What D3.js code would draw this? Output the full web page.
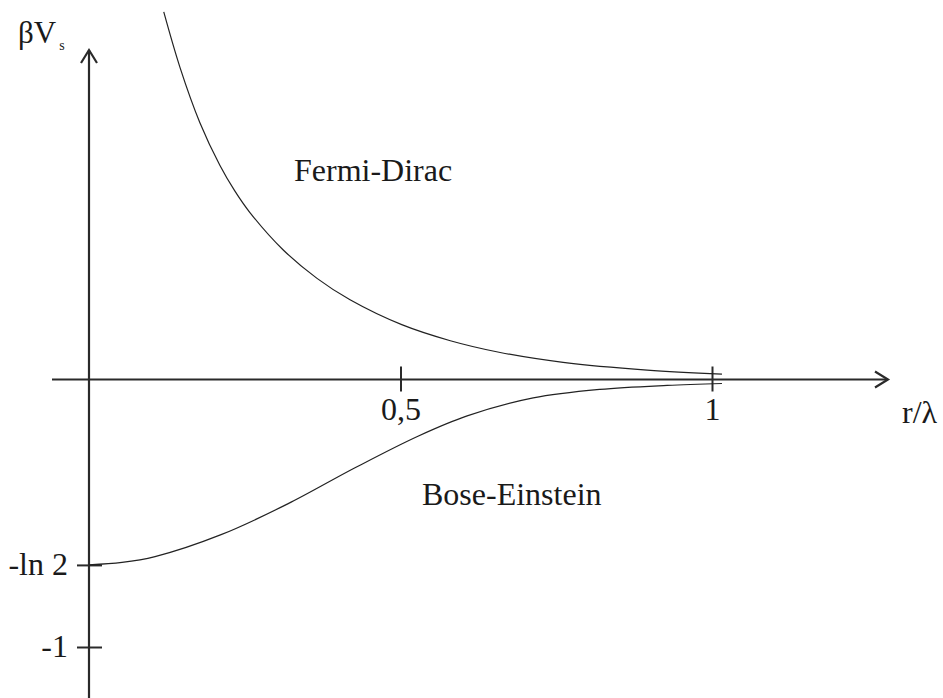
<!DOCTYPE html>
<html>
<head>
<meta charset="utf-8">
<script src="https://cdn.jsdelivr.net/npm/d3@7"></script>
<style>
  html, body { margin: 0; padding: 0; background: #fff; }
  svg { display: block; }
  text { font-family: "Liberation Serif", "Times New Roman", serif; fill: #1a1a1a; }
</style>
</head>
<body>
<svg id="chart" width="943" height="698"></svg>
<script>
// Statistical potential βV_s versus r/λ for the two quantum statistics
const fermiR = [0.120, 0.146, 0.178, 0.210, 0.234, 0.258, 0.311, 0.366, 0.419, 0.502, 0.580, 0.660, 0.761, 0.896, 1.016];
const fermiV = [1.374, 1.167, 0.960, 0.801, 0.705, 0.625, 0.486, 0.378, 0.298, 0.205, 0.145, 0.101, 0.064, 0.035, 0.020];

const boseR = [0.000, 0.053, 0.106, 0.212, 0.319, 0.427, 0.528, 0.607, 0.713, 0.820, 0.928, 1.016];
const boseV = [-0.693, -0.684, -0.662, -0.580, -0.465, -0.330, -0.212, -0.136, -0.069, -0.037, -0.022, -0.015];

const xTickValues = [0.5, 1];
const xTickLabels = ["0,5", "1"];
const yTickValues = [-Math.LN2, -1];
const yTickLabels = ["-ln 2", "-1"];

const curveLabels = ["Fermi-Dirac", "Bose-Einstein"];

const svg = d3.select("#chart");
const axisColor = "#2a2a2a";
const fontSize = 32;

const x = d3.scaleLinear().domain([0, 1]).range([89, 712]);
const y = d3.scaleLinear().domain([0, -1]).range([379.5, 647]);

// x axis line with open arrowhead
const xStart = x.invert(52), xEnd = x.invert(888);
svg.append("line")
  .attr("x1", x(xStart)).attr("x2", x(xEnd))
  .attr("y1", y(0)).attr("y2", y(0))
  .attr("stroke", axisColor).attr("stroke-width", 2.2);
svg.append("path")
  .attr("d", `M${x(xEnd) - 13},${y(0) - 8} L${x(xEnd)},${y(0)} L${x(xEnd) - 13},${y(0) + 8}`)
  .attr("fill", "none").attr("stroke", axisColor).attr("stroke-width", 2.2);

// y axis line with open arrowhead
const yTop = y.invert(50), yBottom = y.invert(700);
svg.append("line")
  .attr("x1", x(0)).attr("x2", x(0))
  .attr("y1", y(yTop)).attr("y2", y(yBottom))
  .attr("stroke", axisColor).attr("stroke-width", 2.2);
svg.append("path")
  .attr("d", `M${x(0) - 8},${y(yTop) + 13} L${x(0)},${y(yTop)} L${x(0) + 8},${y(yTop) + 13}`)
  .attr("fill", "none").attr("stroke", axisColor).attr("stroke-width", 2.2);

// x ticks crossing the axis
const xAxis = d3.axisBottom(x)
  .tickValues(xTickValues)
  .tickFormat((d, i) => xTickLabels[i])
  .tickSize(0);
const gx = svg.append("g")
  .attr("transform", `translate(0,${y(0)})`)
  .call(xAxis);
gx.select(".domain").remove();
gx.selectAll(".tick line")
  .attr("y1", -13).attr("y2", 12)
  .attr("stroke", axisColor).attr("stroke-width", 2);
gx.selectAll(".tick text")
  .attr("y", 40).attr("dy", null)
  .attr("font-size", fontSize)
  .attr("font-family", "Liberation Serif, serif")
  .attr("fill", "#1a1a1a");

// y ticks crossing the axis
const yAxis = d3.axisLeft(y)
  .tickValues(yTickValues)
  .tickFormat((d, i) => yTickLabels[i])
  .tickSize(0);
const gy = svg.append("g")
  .attr("transform", `translate(${x(0)},0)`)
  .call(yAxis);
gy.select(".domain").remove();
gy.selectAll(".tick line")
  .attr("x1", -12).attr("x2", 13)
  .attr("stroke", axisColor).attr("stroke-width", 2);
gy.selectAll(".tick text")
  .attr("x", -21).attr("dy", "0.3em")
  .attr("font-size", fontSize)
  .attr("font-family", "Liberation Serif, serif")
  .attr("fill", "#1a1a1a");

// curves
const line = d3.line()
  .x(d => x(d[0]))
  .y(d => y(d[1]))
  .curve(d3.curveCatmullRom.alpha(0.5));

svg.append("path")
  .datum(d3.zip(fermiR, fermiV))
  .attr("d", line)
  .attr("fill", "none").attr("stroke", "#222").attr("stroke-width", 1.2);

svg.append("path")
  .datum(d3.zip(boseR, boseV))
  .attr("d", line)
  .attr("fill", "none").attr("stroke", "#222").attr("stroke-width", 1.2);

// curve labels
svg.append("text")
  .attr("x", 294).attr("y", 181)
  .attr("font-size", fontSize)
  .text(curveLabels[0]);
svg.append("text")
  .attr("x", 422).attr("y", 505)
  .attr("font-size", fontSize)
  .text(curveLabels[1]);

// axis titles
const yTitle = svg.append("text")
  .attr("x", 18).attr("y", 43)
  .attr("font-size", 31);
yTitle.append("tspan").text("βV");
yTitle.append("tspan").attr("font-size", 14).attr("dy", 7).attr("dx", 3).text("s");

svg.append("text")
  .attr("x", 902).attr("y", 423)
  .attr("font-size", fontSize)
  .text("r/λ");
</script>
</body>
</html>
